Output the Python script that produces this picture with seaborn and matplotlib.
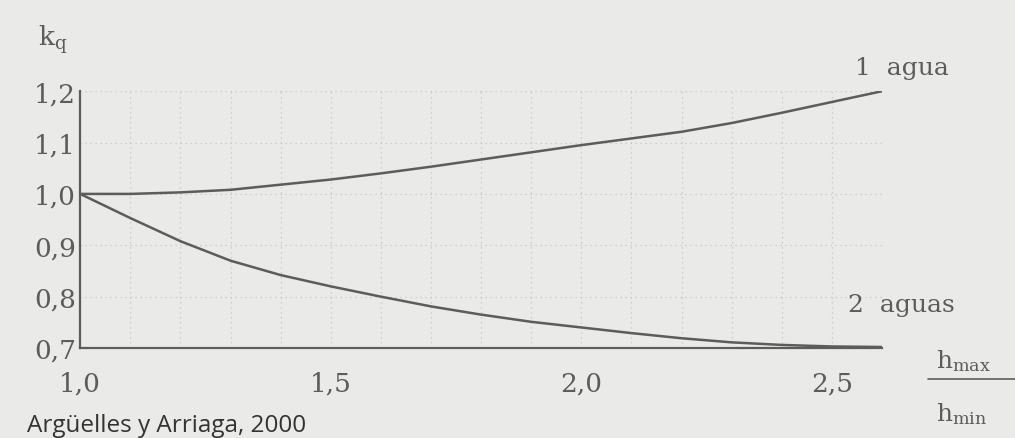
import numpy as np
import pandas as pd
import matplotlib.pyplot as plt
import seaborn as sns

# data
h_ratio = [1.0, 1.1, 1.2, 1.3, 1.4, 1.5, 1.6, 1.7, 1.8, 1.9, 2.0, 2.1, 2.2, 2.3, 2.4, 2.5, 2.6]
kq_1_agua = [1.000, 1.000, 1.003, 1.008, 1.018, 1.028, 1.040, 1.053, 1.067, 1.081, 1.095,
             1.108, 1.121, 1.138, 1.158, 1.179, 1.200]
kq_2_aguas = [1.000, 0.953, 0.908, 0.870, 0.842, 0.820, 0.800, 0.781, 0.765, 0.751, 0.740,
              0.729, 0.719, 0.711, 0.706, 0.703, 0.702]
series_names = ["1 agua", "2 aguas"]
y_ticks = [0.7, 0.8, 0.9, 1.0, 1.1, 1.2]
y_ticklabels = ["0,7", "0,8", "0,9", "1,0", "1,1", "1,2"]
x_ticks = [1.0, 1.5, 2.0, 2.5]
x_ticklabels = ["1,0", "1,5", "2,0", "2,5"]

df = pd.DataFrame({
    "h": h_ratio * 2,
    "kq": kq_1_agua + kq_2_aguas,
    "serie": [series_names[0]] * len(h_ratio) + [series_names[1]] * len(h_ratio),
})

bg = "#eaeae8"
ink = "#5c5c5c"

sns.set_style("white")
plt.rcParams["font.family"] = ["DejaVu Serif"]
plt.rcParams["mathtext.fontset"] = "dejavuserif"

fig = plt.figure(figsize=(10.15, 4.39), dpi=100, facecolor=bg)
ax = fig.add_axes([0.079, 0.205, 0.79, 0.585])
ax.set_facecolor(bg)

sns.lineplot(data=df, x="h", y="kq", hue="serie", palette=[ink, ink],
             linewidth=1.8, legend=False, ax=ax)

ax.set_xlim(1.0, 2.6)
ax.set_ylim(0.7, 1.2)

# dotted grid every 0.1
for gx in np.arange(1.1, 2.61, 0.1):
    ax.axvline(gx, color="#c6c6c4", linestyle=(0, (1, 3)), linewidth=0.9, zorder=0)
for gy in np.arange(0.8, 1.21, 0.1):
    ax.axhline(gy, color="#c6c6c4", linestyle=(0, (1, 3)), linewidth=0.9, zorder=0)

ax.set_yticks(y_ticks)
ax.set_yticklabels(y_ticklabels, fontsize=19, color=ink)
ax.set_xticks(x_ticks)
ax.set_xticklabels(x_ticklabels, fontsize=19, color=ink)
ax.tick_params(axis="both", length=0, pad=3)
ax.tick_params(axis="x", pad=16)
ax.set_xlabel("")
ax.set_ylabel("")

for side in ["top", "right"]:
    ax.spines[side].set_visible(False)
for side in ["left", "bottom"]:
    ax.spines[side].set_color(ink)
    ax.spines[side].set_linewidth(1.6)

# annotations
fig.text(0.037, 0.895, r"k$_{\mathrm{q}}$", fontsize=19, color=ink)
fig.text(0.842, 0.83, "1  agua", fontsize=18, color=ink)
fig.text(0.835, 0.29, "2  aguas", fontsize=18, color=ink)
fig.text(0.922, 0.162, r"h$_{\mathrm{max}}$", fontsize=18, color=ink)
fig.add_artist(plt.Line2D([0.914, 1.0], [0.134, 0.134], color=ink, linewidth=1.2))
fig.text(0.922, 0.04, r"h$_{\mathrm{min}}$", fontsize=18, color=ink)

fig.text(0.027, 0.016, "Argüelles y Arriaga, 2000", fontsize=17.5, color="#333333",
         family=["Open Sans", "DejaVu Sans"])

fig.savefig("out.png", dpi=100, facecolor=bg)
